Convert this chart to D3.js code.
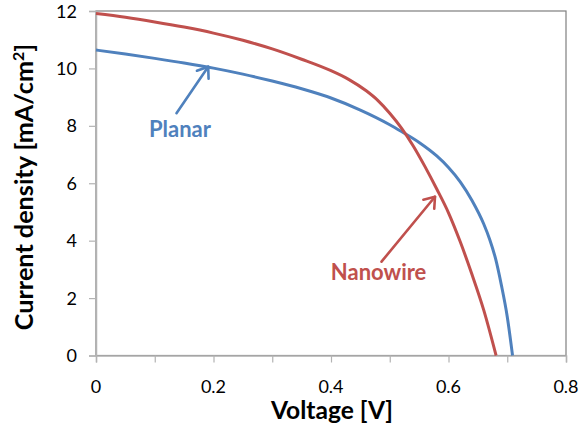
<!DOCTYPE html>
<html>
<head>
<meta charset="utf-8">
<script src="https://cdn.jsdelivr.net/npm/d3@7"></script>
<style>
  html, body { margin: 0; padding: 0; background: #fff; }
  svg { display: block; }
  text { font-family: Lato, "Open Sans", sans-serif; fill: #000; }
</style>
</head>
<body>
<svg id="chart" width="582" height="428"></svg>
<script>
// J–V curves: voltage [V] and current density [mA/cm²]
const planarV = [0.00, 0.05, 0.10, 0.15, 0.20, 0.25, 0.30, 0.35, 0.40, 0.45, 0.50, 0.52, 0.55, 0.58, 0.60, 0.62, 0.64, 0.66, 0.67, 0.68, 0.69, 0.70, 0.709];
const planarJ = [10.64, 10.50, 10.35, 10.19, 10.01, 9.80, 9.56, 9.29, 8.97, 8.55, 8.04, 7.80, 7.42, 6.95, 6.55, 6.05, 5.40, 4.58, 4.05, 3.38, 2.45, 1.35, 0.00];

const nanowireV = [0.00, 0.05, 0.10, 0.15, 0.20, 0.25, 0.30, 0.35, 0.40, 0.43, 0.46, 0.48, 0.50, 0.52, 0.54, 0.56, 0.58, 0.60, 0.62, 0.64, 0.66, 0.681];
const nanowireJ = [11.91, 11.78, 11.62, 11.44, 11.23, 10.98, 10.68, 10.32, 9.92, 9.62, 9.22, 8.88, 8.44, 7.92, 7.30, 6.58, 5.80, 4.97, 3.96, 2.82, 1.58, 0.00];

const xTicks = [0, 0.2, 0.4, 0.6, 0.8];
const xMinorTicks = [0, 0.1, 0.2, 0.3, 0.4, 0.5, 0.6, 0.7, 0.8];
const yTicks = [0, 2, 4, 6, 8, 10, 12];

const seriesNames = ["Planar", "Nanowire"];
const seriesColors = ["#4F81BD", "#C0504D"];
// annotation: [label V, label J, arrow tail V, tail J, arrow tip V, tip J]
const planarNote = [0.143, 7.62, 0.137, 8.44, 0.191, 10.06];
const nanowireNote = [0.481, 2.63, 0.486, 3.27, 0.577, 5.53];

const svg = d3.select("#chart");
const plotL = 96, plotR = 566, plotT = 11, plotB = 355.5;

const x = d3.scaleLinear().domain([0, 0.8]).range([plotL, plotR]);
const y = d3.scaleLinear().domain([0, 12]).range([plotB, plotT]);

// plot area frame
svg.append("rect")
  .attr("x", plotL).attr("y", plotT)
  .attr("width", plotR - plotL).attr("height", plotB - plotT)
  .attr("fill", "none").attr("stroke", "#7f7f7f").attr("stroke-width", 1.2);

// x axis with minor ticks every 0.1 and labels every 0.2
const xAxis = svg.append("g").attr("transform", `translate(0,${plotB})`)
  .call(d3.axisBottom(x).tickValues(xMinorTicks).tickSize(7).tickFormat(""));
xAxis.select(".domain").attr("stroke", "#b3b3b3").attr("stroke-width", 1.5);
xAxis.selectAll(".tick line").attr("stroke", "#b3b3b3").attr("stroke-width", 1.2);

svg.append("g").selectAll("text").data(xTicks).join("text")
  .attr("x", d => x(d)).attr("y", 393)
  .attr("text-anchor", "middle").attr("font-size", 18)
  .text(d => d === 0 ? "0" : d3.format(".1f")(d));

// y axis
const yAxis = svg.append("g").attr("transform", `translate(${plotL},0)`)
  .call(d3.axisLeft(y).tickValues(yTicks).tickSize(7).tickFormat(""));
yAxis.select(".domain").attr("stroke", "#b3b3b3").attr("stroke-width", 1.5);
yAxis.selectAll(".tick line").attr("stroke", "#b3b3b3").attr("stroke-width", 1.2);

svg.append("g").selectAll("text").data(yTicks).join("text")
  .attr("x", 77).attr("y", d => y(d) + 6.5)
  .attr("text-anchor", "end").attr("font-size", 18)
  .text(d => d);

// axis titles
svg.append("text")
  .attr("x", 332).attr("y", 419)
  .attr("text-anchor", "middle").attr("font-size", 24.6).attr("font-weight", "bold")
  .text("Voltage [V]");

const yTitle = svg.append("text")
  .attr("transform", "translate(33,187) rotate(-90)")
  .attr("text-anchor", "middle").attr("font-size", 25.2).attr("font-weight", "bold");
yTitle.append("tspan").text("Current density [mA/cm");
yTitle.append("tspan").attr("font-size", 16).attr("dy", -9).text("2");
yTitle.append("tspan").attr("dy", 9).text("]");

// curves
const line = d3.line().x(d => x(d[0])).y(d => y(d[1])).curve(d3.curveMonotoneX);
const series = [
  d3.zip(planarV, planarJ),
  d3.zip(nanowireV, nanowireJ)
];
svg.append("g").selectAll("path").data(series).join("path")
  .attr("d", line)
  .attr("fill", "none")
  .attr("stroke", (d, i) => seriesColors[i])
  .attr("stroke-width", 3)
  .attr("stroke-linejoin", "round");

// labels with arrows
function annotate(note, name, color) {
  const [lv, lj, tv, tj, hv, hj] = note;
  const x0 = x(tv), y0 = y(tj), x1 = x(hv), y1 = y(hj);
  const g = svg.append("g").attr("stroke", color).attr("stroke-width", 2.6)
    .attr("fill", "none").attr("stroke-linecap", "round").attr("stroke-linejoin", "round");
  g.append("line").attr("x1", x0).attr("y1", y0).attr("x2", x1).attr("y2", y1);
  const ang = Math.atan2(y1 - y0, x1 - x0);
  const len = 12, spread = Math.PI / 5;
  const pts = [
    [x1 - len * Math.cos(ang - spread), y1 - len * Math.sin(ang - spread)],
    [x1, y1],
    [x1 - len * Math.cos(ang + spread), y1 - len * Math.sin(ang + spread)]
  ];
  g.append("path").attr("d", d3.line()(pts));
  svg.append("text")
    .attr("x", x(lv)).attr("y", y(lj))
    .attr("text-anchor", "middle").attr("font-size", 22).attr("font-weight", "bold")
    .style("fill", color)
    .text(name);
}
annotate(planarNote, seriesNames[0], seriesColors[0]);
annotate(nanowireNote, seriesNames[1], seriesColors[1]);
</script>
</body>
</html>
